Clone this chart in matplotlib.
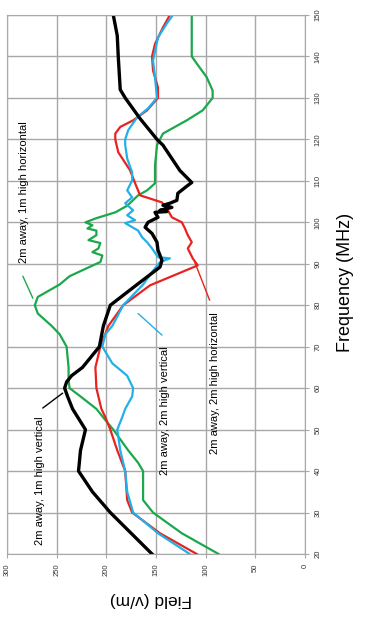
import matplotlib
matplotlib.use("Agg")
import matplotlib.pyplot as plt

plt.rcParams['font.family'] = ['Liberation Sans', 'DejaVu Sans']

# 2m away, 1m high vertical (black)
black_freq = [20, 25, 30, 35, 40, 45, 50, 55, 58, 60, 61.5, 63, 65, 70, 75, 80, 85, 89.2, 90.8, 93.3, 95.2,
              97.3, 98.8, 100, 101.2, 102.4, 102.6, 102.9, 103.6, 104.1, 104.6, 105.3, 107, 108.9, 109.6,
              112.5, 118.6, 120, 125, 130, 132, 140, 145, 150]
black_field = [154, 175, 196, 214, 228, 226, 221, 234, 239, 242, 240, 235, 224, 207, 203, 196, 169, 146, 144, 148, 149,
               154, 161, 158, 148, 151, 139, 146, 134, 143, 136, 129, 128, 118, 114,
               126, 143, 149, 166, 181, 186, 188, 189, 193]

# 2m away, 2m high horizontal (red)
red_freq = [20, 25, 30, 33, 40, 45, 50, 53, 55, 60, 65, 70, 75, 80, 84.8, 89.6, 91.3, 93.7, 95.2, 96.9, 98.6,
            100, 101.2, 102.9, 104.8, 106.5, 109.4, 112.5, 116.9, 120, 121.4, 123, 124.6, 127, 130, 132.5,
            136.6, 140, 143, 147, 150]
red_field = [109, 146, 174, 179, 181, 189, 196, 201, 205, 210, 211, 206, 198, 183, 156, 108, 113, 118, 114, 118, 121,
             124, 134, 138, 144, 166, 171, 176, 188, 191, 191, 186, 173, 159, 148, 148,
             153, 154, 151, 143, 136]

# 2m away, 2m high vertical (blue)
blue_freq = [20, 25, 30, 35, 40, 45, 50, 53, 55, 58, 60, 63, 66, 70, 73, 75, 80, 85, 88, 90.4, 91.3, 91.6,
             93.7, 95.2, 96.4, 98, 99.8, 100.5, 101.7, 102.9, 104.6, 106, 107.7, 110.1, 112, 115.4, 118.6,
             120, 122.2, 125.3, 127.5, 130, 135, 139, 144.6, 148, 150]
blue_field = [116, 148, 173, 179, 181, 186, 189, 184, 181, 174, 173, 179, 194, 204, 201, 194, 183, 163, 154, 146,
              136, 148, 154, 159, 164, 168, 181, 171, 179, 173, 181, 174, 179, 174, 174, 179, 181,
              181, 178, 169, 158, 149, 151, 153, 148, 139, 133]

# 2m away, 1m high horizontal (green)
green_freq = [20, 25, 30, 33, 35, 40, 42, 45, 50, 52, 55, 58, 60, 62, 65, 70, 73, 75, 78, 80, 82, 85, 87, 90,
              90.4, 92, 92.8, 93.7, 95, 95.7, 96.9, 98, 98.5, 99.3, 100, 101, 102.4, 104, 106.5, 107.7, 109.4,
              113.7, 118.6, 121.4, 124.6, 127, 130, 131.8, 135, 138.3, 140, 143, 150]
green_field = [87, 124, 153, 163, 163, 163, 168, 178, 193, 200, 210, 226, 237, 238, 238, 240, 247, 255, 269, 272,
               269, 247, 237, 210, 206, 204, 214, 208, 206, 218, 210, 210, 219, 214, 221, 210, 191, 179, 168, 159,
               151, 151, 149, 143, 119, 103, 93, 93, 99, 109, 114, 114, 114]

fig = plt.figure(figsize=(3.66, 6.2), dpi=100)
ax = fig.add_axes([7 / 366, 1 - 554 / 620, 298 / 366, 539 / 620])

ax.plot(green_field, green_freq, color='#1ba84b', lw=1.6)
ax.plot(red_field, red_freq, color='#e8231f', lw=1.6)
ax.plot(blue_field, blue_freq, color='#22b0e8', lw=1.6)
ax.plot(black_field, black_freq, color='black', lw=2.4)

ax.set_xlim(300, 0)
ax.set_ylim(20, 150)
ax.set_xticks(range(0, 301, 50))
ax.set_yticks(range(20, 151, 10))
ax.yaxis.tick_right()
ax.grid(True, color='#a8a8a8', lw=1)
ax.set_axisbelow(True)
for s in ax.spines.values():
    s.set_color('#a8a8a8')
ax.tick_params(axis='both', colors='#a8a8a8', length=3, labelsize=5.5, labelcolor='#333333', pad=4)
for lab in ax.get_xticklabels() + ax.get_yticklabels():
    lab.set_rotation(90)
for lab in ax.get_yticklabels():
    lab.set_va('center')

fig.text(345 / 366, 1 - 282 / 620, 'Frequency (MHz)', rotation=90, ha='center', va='center', fontsize=13)
fig.text(151 / 366, 1 - 600 / 620, 'Field (v/m)', rotation=180, ha='center', va='center', fontsize=12.5)

# labels with leader lines
ax.text(283, 107.2, '2m away, 1m high horizontal', rotation=90, ha='center', va='center', fontsize=8)
ax.annotate('', xy=(274, 81.7), xytext=(284, 87),
            arrowprops=dict(arrowstyle='-', color='#1ba84b', lw=1, shrinkA=0, shrinkB=0))
ax.text(267, 37.6, '2m away, 1m high vertical', rotation=90, ha='center', va='center', fontsize=8)
ax.annotate('', xy=(244, 58.8), xytext=(264, 55.2),
            arrowprops=dict(arrowstyle='-', color='black', lw=1, shrinkA=0, shrinkB=0))
ax.text(141, 54.5, '2m away, 2m high vertical', rotation=90, ha='center', va='center', fontsize=8)
ax.annotate('', xy=(168, 78), xytext=(144, 72.8),
            arrowprops=dict(arrowstyle='-', color='#22b0e8', lw=1, shrinkA=0, shrinkB=0))
ax.text(91, 61.2, '2m away, 2m high horizontal', rotation=90, ha='center', va='center', fontsize=8)
ax.annotate('', xy=(111, 90.4), xytext=(96, 81.2),
            arrowprops=dict(arrowstyle='-', color='#e8231f', lw=1, shrinkA=0, shrinkB=0))

fig.savefig('out.png', dpi=100)
